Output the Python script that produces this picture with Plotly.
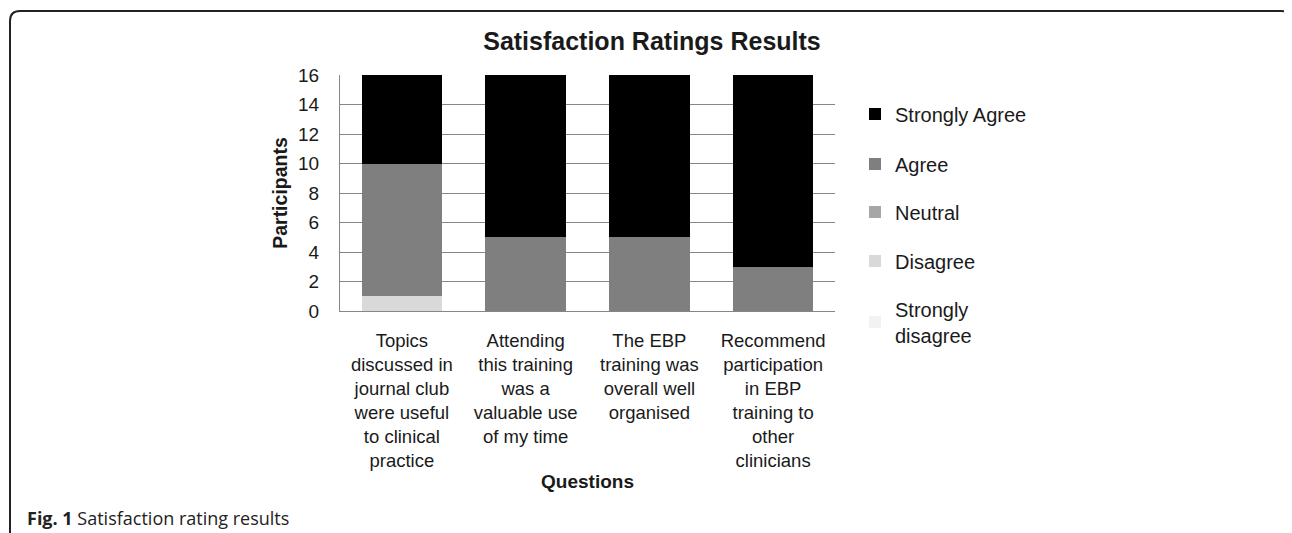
import plotly.graph_objects as go

# ---- data ----
questions = [
    "Topics<br>discussed in<br>journal club<br>were useful<br>to clinical<br>practice",
    "Attending<br>this training<br>was a<br>valuable use<br>of my time",
    "The EBP<br>training was<br>overall well<br>organised",
    "Recommend<br>participation<br>in EBP<br>training to<br>other<br>clinicians",
]
series_names = ["Strongly<br>disagree", "Disagree", "Neutral", "Agree", "Strongly Agree"]
strongly_disagree = [0, 0, 0, 0]
disagree = [1, 0, 0, 0]
neutral = [0, 0, 0, 0]
agree = [9, 5, 5, 3]
strongly_agree = [6, 11, 11, 13]
y_ticks = [0, 2, 4, 6, 8, 10, 12, 14, 16]

# ---- style ----
colors = ["#f2f2f2", "#d9d9d9", "#a6a6a6", "#7f7f7f", "#000000"]
legend_names = ["legend5", "legend4", "legend3", "legend2", "legend"]
FONT = "Arial, Liberation Sans, sans-serif"
TXT = "#1a1a1a"
GRID = "#868686"

OFF = 8  # page body margin
W, H = 1292 - OFF, 533 - OFF
L, R, T, B = 340, 835, 75, 311  # plot area in screenshot pixels


def px(x):
    return (x - L) / (R - L)


def py(y):
    return (B - y) / (B - T)


fig = go.Figure()
values = [strongly_disagree, disagree, neutral, agree, strongly_agree]
for name, vals, col, lg in zip(series_names, values, colors, legend_names):
    fig.add_trace(go.Bar(
        x=questions, y=vals, name=name, marker=dict(color=col, line=dict(width=0)),
        legend=lg,
    ))

legend_y = {"legend": 114, "legend2": 164, "legend3": 212, "legend4": 261, "legend5": 322}
legend_layout = {}
for lg, yy in legend_y.items():
    legend_layout[lg] = dict(
        x=px(855), y=py(yy), xanchor="left", yanchor="middle",
        xref="paper", yref="paper",
        font=dict(family=FONT, size=20, color=TXT),
        bgcolor="rgba(0,0,0,0)", itemwidth=30,
    )

# frame (rounded border) in paper coords
fx0, fy0, fx1, fy1, rr = 10, 11, 1291, 560, 10
frame_path = (
    f"M {px(fx0)},{py(fy1)} L {px(fx0)},{py(fy0 + rr)} "
    f"Q {px(fx0)},{py(fy0)} {px(fx0 + rr)},{py(fy0)} "
    f"L {px(fx1 - rr)},{py(fy0)} Q {px(fx1)},{py(fy0)} {px(fx1)},{py(fy0 + rr)} "
    f"L {px(fx1)},{py(fy1)}"
)

fig.update_layout(
    width=W, height=H, autosize=False,
    margin=dict(l=L - OFF, r=W - (R - OFF), t=T - OFF, b=H - (B - OFF), pad=0),
    paper_bgcolor="white", plot_bgcolor="white",
    barmode="stack", bargap=0.35,
    showlegend=True,
    font=dict(family=FONT, size=19, color=TXT),
    title=dict(
        text="<b>Satisfaction Ratings Results</b>",
        xref="container", yref="container",
        x=(652 - OFF) / W, xanchor="center", y=1 - (41 - OFF) / H, yanchor="middle",
        font=dict(family=FONT, size=25, color=TXT),
    ),
    xaxis=dict(
        showline=True, linecolor=GRID, linewidth=1, showgrid=False,
        ticks="", ticklabelstandoff=13, tickfont=dict(family=FONT, size=18.5, color=TXT),
        title=dict(text="<b>Questions</b>", font=dict(family=FONT, size=19, color=TXT), standoff=4),
        automargin=False,
    ),
    yaxis=dict(
        range=[0, 16], tickvals=y_ticks, showline=True, linecolor=GRID, linewidth=1,
        showgrid=True, gridcolor=GRID, gridwidth=1, zeroline=False,
        ticks="", ticklabelstandoff=16, tickfont=dict(family=FONT, size=19, color=TXT),
        title=dict(text="<b>Participants</b>", font=dict(family=FONT, size=19.5, color=TXT), standoff=5),
        automargin=False,
    ),
    shapes=[dict(type="path", xref="paper", yref="paper", path=frame_path,
                 line=dict(color="#222", width=2), layer="above")],
    annotations=[dict(
        text="<b>Fig. 1</b> Satisfaction rating results", xref="paper", yref="paper",
        x=px(25), y=py(518), xanchor="left", yanchor="middle", showarrow=False,
        font=dict(family="Open Sans, sans-serif", size=18, color="#222"),
    )],
    **legend_layout,
)

fig.write_html("out.html")
